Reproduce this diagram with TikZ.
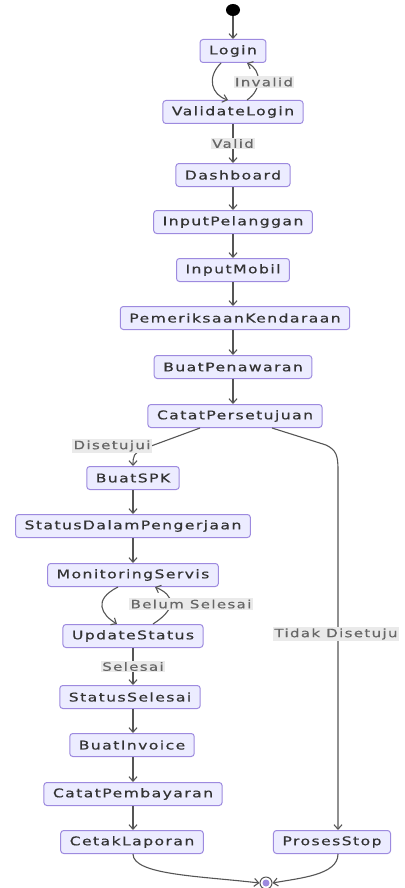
\documentclass[tikz,border=0pt]{standalone}
\usepackage{fontspec}
\setmainfont{DejaVu Sans}[FakeStretch=1.3,LetterSpace=12,FakeBold=0.6]
\usetikzlibrary{arrows.meta,shapes.geometric}
\definecolor{nfill}{HTML}{ECECFF}
\definecolor{nline}{HTML}{9D8ADF}
\definecolor{eline}{HTML}{555555}
\definecolor{lbg}{HTML}{EAEAEA}
\begin{document}
\begin{tikzpicture}[x=1pt,y=-1pt,
 box/.style={draw=nline,fill=nfill,line width=1pt,rounded corners=3pt,minimum height=23pt,inner xsep=9pt,inner ysep=2pt,font=\fontsize{12}{14}\selectfont,text=black!80},
 edge/.style={draw=eline,line width=1.1pt,-{Straight Barb[length=4.5pt,width=8pt]}},
 lbl/.style={fill=lbg,inner sep=1.5pt,font=\fontsize{11.5}{13}\selectfont,text=black!60}]
\useasboundingbox (0,0) rectangle (404,888);
\node[ellipse,fill=black,minimum width=14pt,minimum height=12pt,inner sep=0pt] (start) at (233,10) {};
\node[box] (login) at (233,51) {Login};
\node[box] (validate) at (233,112) {ValidateLogin};
\node[box] (dash) at (233,175) {Dashboard};
\node[box] (inpel) at (233,222) {InputPelanggan};
\node[box] (inmob) at (233,270) {InputMobil};
\node[box] (periksa) at (235,318) {PemeriksaanKendaraan};
\node[box] (penawaran) at (233,367) {BuatPenawaran};
\node[box] (catat) at (235,416) {CatatPersetujuan};
\node[box] (spk) at (133,478) {BuatSPK};
\node[box] (dalam) at (133,526) {StatusDalamPengerjaan};
\node[box] (monitor) at (133,575) {MonitoringServis};
\node[box] (update) at (133,636) {UpdateStatus};
\node[box] (selesai) at (130,697) {StatusSelesai};
\node[box] (invoice) at (132,745) {BuatInvoice};
\node[box] (bayar) at (133,794) {CatatPembayaran};
\node[box] (cetak) at (132,842) {CetakLaporan};
\node[box] (stop) at (332,842) {ProsesStop};
\node[circle,draw=eline,line width=1pt,minimum size=12pt,inner sep=0pt] (end) at (266,883) {};
\fill[nline] (end.center) circle (3.5pt);

\draw[edge] (start) -- (login);
\draw[edge] ([xshift=-12pt]login.south) .. controls (206,78) and (212,95) .. ([xshift=-5pt]validate.north);
\draw[edge] ([xshift=14pt]validate.north) .. controls (262,90) and (262,70) .. ([xshift=14pt]login.south);
\node[lbl] (linvalid) at (264,82) {Invalid};
\draw[edge] (validate) -- node[lbl] (lvalid) {Valid} (dash);
\draw[edge] (dash) -- (inpel);
\draw[edge] (inpel) -- (inmob);
\draw[edge] (inmob) -- (inmob |- periksa.north);
\draw[edge] (inmob |- periksa.south) -- (penawaran);
\draw[edge] (penawaran.south) -- (penawaran.south |- catat.north);
\draw[edge] ([xshift=-35pt]catat.south) -- (143,449) .. controls (134,453) and (133,456) .. (spk.north);
\node[lbl] (ldisetujui) at (112,446) {Disetujui};
\draw[edge] ([xshift=37pt]catat.south) -- (326,445) .. controls (336,450) and (338,455) .. (338,470) -- ([xshift=6pt]stop.north);
\node[lbl] (ltidak) at (336,634) {Tidak Disetuju};
\draw[edge] (spk) -- (dalam);
\draw[edge] (dalam) -- (monitor);
\draw[edge] ([xshift=-15pt]monitor.south) .. controls (92,600) and (102,615) .. ([xshift=-16pt]update.north);
\draw[edge] ([xshift=20pt]update.north) .. controls (178,608) and (174,595) .. ([xshift=22pt]monitor.south);
\node[lbl] (lbelum) at (191,604) {Belum Selesai};
\draw[edge] (update) -- node[lbl] (lselesai) {Selesai} (update |- selesai.north);
\draw[edge] (update |- selesai.south) -- (update |- invoice.north);
\draw[edge] (update |- invoice.south) -- (bayar);
\draw[edge] (bayar) -- (bayar |- cetak.north);
\draw[edge] (bayar |- cetak.south) .. controls (133,875) and (200,876) .. (end.west);
\draw[edge] ([xshift=6pt]stop.south) .. controls (338,875) and (300,878) .. (end.east);
\end{tikzpicture}
\end{document}
